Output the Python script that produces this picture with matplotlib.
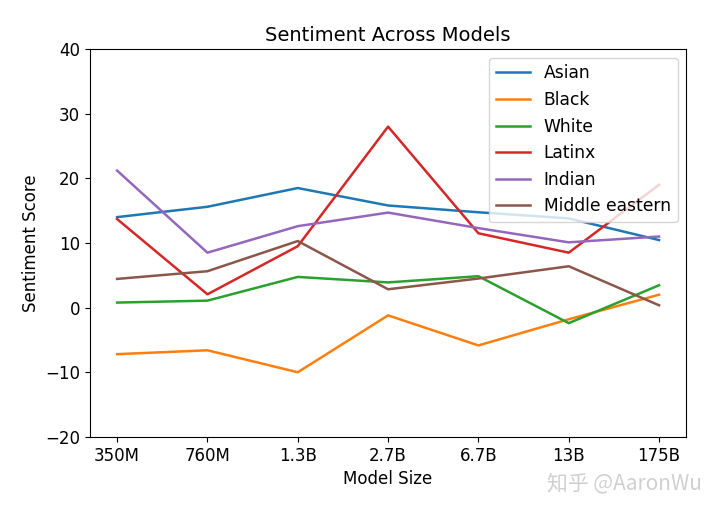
import matplotlib
matplotlib.use("Agg")
import matplotlib.pyplot as plt

models = ["350M", "760M", "1.3B", "2.7B", "6.7B", "13B", "175B"]
asian = [14.0, 15.6, 18.5, 15.8, 14.75, 13.8, 10.45]
black = [-7.2, -6.6, -10.0, -1.2, -5.85, -1.8, 2.0]
white = [0.78, 1.08, 4.75, 3.9, 4.86, -2.4, 3.46]
latinx = [13.7, 2.06, 9.5, 28.0, 11.5, 8.5, 19.0]
indian = [21.2, 8.5, 12.6, 14.7, 12.3, 10.1, 11.0]
middle_eastern = [4.44, 5.63, 10.3, 2.84, 4.5, 6.4, 0.36]

series = [("Asian", asian), ("Black", black), ("White", white),
          ("Latinx", latinx), ("Indian", indian), ("Middle eastern", middle_eastern)]

plt.rcParams['font.family'] = ['DejaVu Sans', 'Noto Sans CJK SC']
fig = plt.figure(figsize=(7.2, 5.11), dpi=100)
ax = fig.add_axes([0.125, 0.145, 0.828, 0.759])
x = list(range(len(models)))
for name, vals in series:
    ax.plot(x, vals, label=name, linewidth=1.8)
ax.set_xticks(x)
ax.set_xticklabels(models)
ax.set_ylim(-20, 40)
ax.set_yticks([-20, -10, 0, 10, 20, 30, 40])
ax.set_xlim(-0.3, 6.3)
ax.tick_params(labelsize=12)
ax.set_xlabel("Model Size", fontsize=12)
ax.set_ylabel("Sentiment Score", fontsize=12)
ax.set_title("Sentiment Across Models", fontsize=14)
ax.legend(loc="upper right", fontsize=12.3)
fig.text(0.975, 0.055, "知乎 @AaronWu", ha="right", va="center", fontsize=15,
         color="#d0d0d0", family=['Noto Sans CJK SC', 'DejaVu Sans'])
fig.savefig("out.png", dpi=100)
